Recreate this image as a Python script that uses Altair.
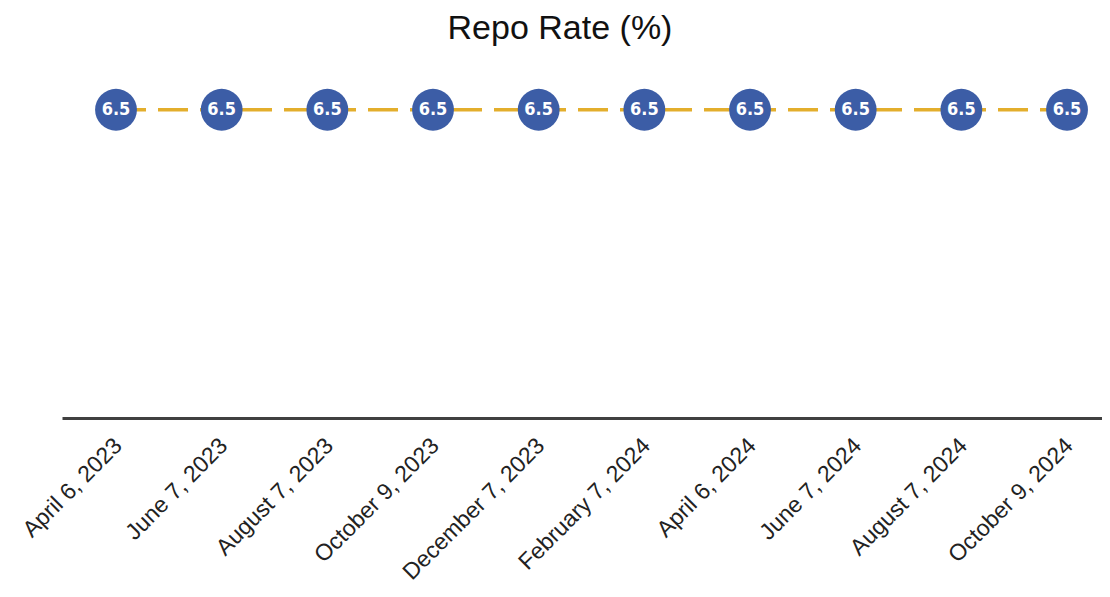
import altair as alt
import pandas as pd

dates = ["April 6, 2023", "June 7, 2023", "August 7, 2023", "October 9, 2023",
         "December 7, 2023", "February 7, 2024", "April 6, 2024", "June 7, 2024",
         "August 7, 2024", "October 9, 2024"]
rates = [6.5, 6.5, 6.5, 6.5, 6.5, 6.5, 6.5, 6.5, 6.5, 6.5]

df = pd.DataFrame({"date": dates, "rate": rates})

FONT = "Liberation Sans"

x = alt.X("date:N", sort=dates, title=None,
          scale=alt.Scale(type="point", padding=0.421, align=0.607),
          axis=alt.Axis(labelAngle=-45, labelFontSize=23, labelColor="#222222",
                        labelFont=FONT, ticks=False, domainColor="#404040",
                        domainWidth=3, labelPadding=16, labelOffset=-6, labelLimit=0,
                        grid=False))
y = alt.Y("rate:Q", scale=alt.Scale(domain=[0, 7]), axis=None)

base = alt.Chart(df).encode(x=x, y=y)

line = base.mark_line(color="#E3AE2C", strokeWidth=3.5, strokeDash=[30, 12])
pts = base.mark_circle(size=1750, color="#3C5DA6", opacity=1)
txt = base.mark_text(color="white", fontSize=18, fontWeight="bold",
                     font="DejaVu Sans Condensed, Liberation Sans").encode(
    text=alt.Text("rate:Q", format=".1f"))

chart = alt.layer(line, pts, txt).properties(
    width=1040, height=332,
    title=alt.TitleParams("Repo Rate (%)", fontSize=34, font=FONT, fontWeight="normal",
                          color="#111111", offset=40, dx=-22),
    autosize=alt.AutoSizeParams(type="none"),
    padding={"left": 54, "top": 78, "right": 0, "bottom": 171},
).configure_view(stroke=None)

chart.save("out.html", embed_options={"renderer": "svg", "actions": False})
